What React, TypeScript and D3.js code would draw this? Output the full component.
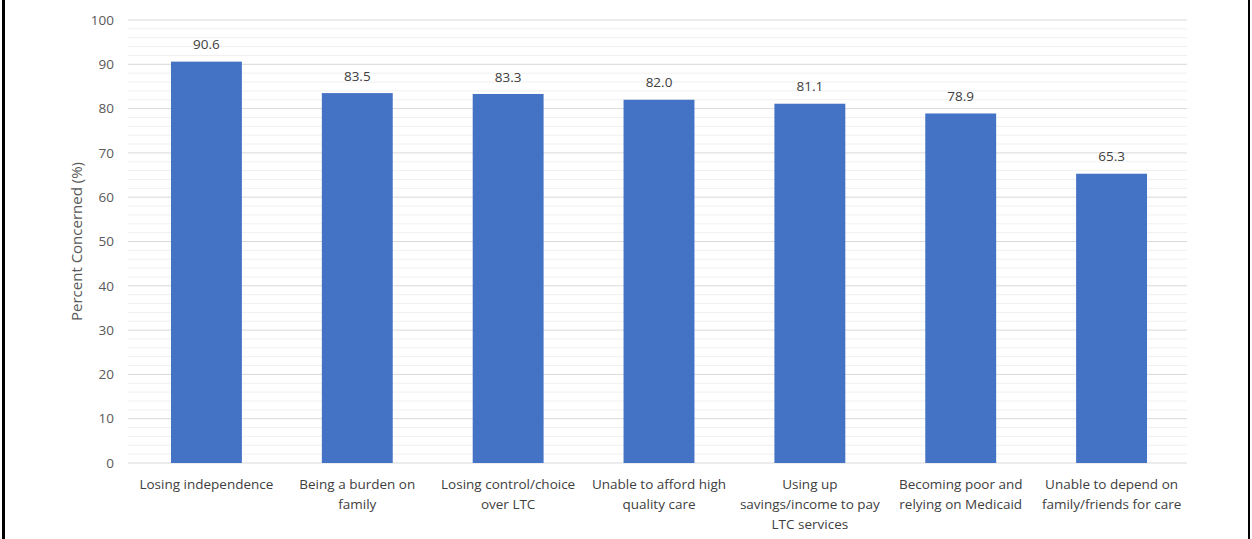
import React from "react";
import * as d3 from "d3";

const categories: string[][] = [
  ["Losing independence"],
  ["Being a burden on", "family"],
  ["Losing control/choice", "over LTC"],
  ["Unable to afford high", "quality care"],
  ["Using up", "savings/income to pay", "LTC services"],
  ["Becoming poor and", "relying on Medicaid"],
  ["Unable to depend on", "family/friends for care"],
];
const values: number[] = [90.6, 83.5, 83.3, 82.0, 81.1, 78.9, 65.3];
const yTicks: number[] = [0, 10, 20, 30, 40, 50, 60, 70, 80, 90, 100];
const yMinorTicks: number[] = d3.range(0, 100, 2).filter((v) => v % 10 !== 0);
const yTitle = "Percent Concerned (%)";

const W = 1252;
const H = 539;
const left = 131;
const right = 1187;
const top = 20;
const bottom = 463;
const FONT = "'Open Sans', sans-serif";

export default function App() {
  const x = d3
    .scaleBand<number>()
    .domain(d3.range(values.length))
    .range([left, right])
    .paddingInner(0.53)
    .paddingOuter(0.265);
  const y = d3.scaleLinear().domain([0, 100]).range([bottom, top]);

  return (
    <svg
      width={W}
      height={H}
      style={{ position: "absolute", left: 0, top: 0, background: "#fff" }}
    >
      <rect x={0} y={0} width={W} height={H} fill="#fff" />
      {yMinorTicks.map((t) => (
        <line key={"m" + t} x1={left - 3} x2={right} y1={y(t)} y2={y(t)} stroke="#f0f0f0" strokeWidth={1} />
      ))}
      {yTicks.map((t) => (
        <line key={"g" + t} x1={left - 3} x2={right} y1={y(t)} y2={y(t)} stroke="#d9d9d9" strokeWidth={1} />
      ))}
      {yTicks.map((t) => (
        <text
          key={"t" + t}
          x={114}
          y={y(t)}
          dy="0.35em"
          textAnchor="end"
          fontFamily={FONT}
          fontSize={13.5}
          fill="#595959"
        >
          {t}
        </text>
      ))}
      <text
        transform={`translate(77,${(top + bottom) / 2}) rotate(-90)`}
        textAnchor="middle"
        dy="0.35em"
        fontFamily={FONT}
        fontSize={15}
        fill="#595959"
      >
        {yTitle}
      </text>
      {values.map((v, i) => (
        <rect
          key={"b" + i}
          x={x(i)!}
          y={y(v)}
          width={x.bandwidth()}
          height={y(0) - y(v)}
          fill="#4472C4"
        />
      ))}
      {values.map((v, i) => (
        <text
          key={"v" + i}
          x={x(i)! + x.bandwidth() / 2}
          y={y(v) - 17}
          dy="0.35em"
          textAnchor="middle"
          fontFamily={FONT}
          fontSize={13.5}
          fill="#404040"
        >
          {v.toFixed(1)}
        </text>
      ))}
      {categories.map((lines, i) => (
        <text
          key={"c" + i}
          x={x(i)! + x.bandwidth() / 2}
          y={484}
          textAnchor="middle"
          fontFamily={FONT}
          fontSize={13.5}
          fill="#404040"
        >
          {lines.map((l, j) => (
            <tspan key={j} x={x(i)! + x.bandwidth() / 2} y={484 + j * 20} dy="0.35em">
              {l}
            </tspan>
          ))}
        </text>
      ))}
      <rect x={2} y={0} width={3} height={H} fill="#000" />
      <rect x={1248} y={0} width={2} height={H} fill="#000" />
    </svg>
  );
}
